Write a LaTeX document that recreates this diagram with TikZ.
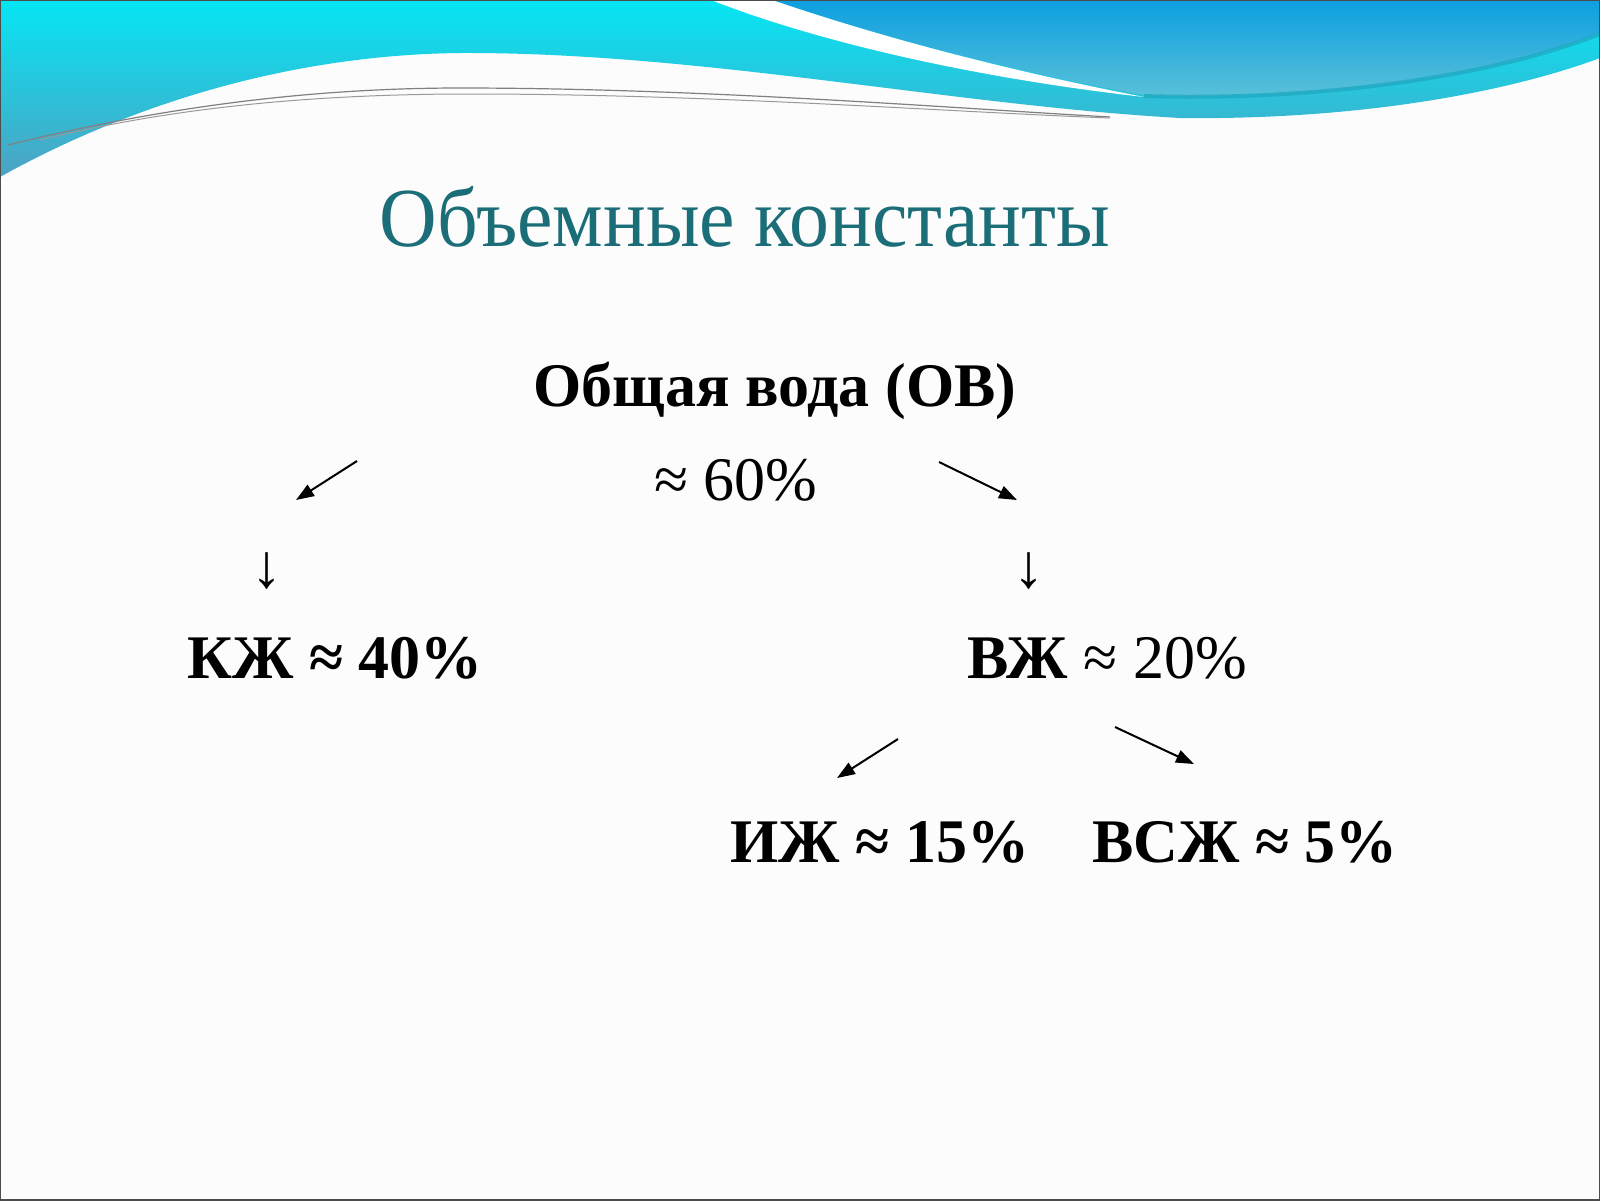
\documentclass[tikz,border=0pt]{standalone}
\usepackage{fontspec}
\setmainfont{Liberation Serif}
\newfontfamily\titlefont[FakeStretch=0.95]{Liberation Serif}
\usetikzlibrary{arrows.meta}
\definecolor{titleteal}{HTML}{1B6E78}
\definecolor{wavecyan}{HTML}{05E6F4}
\definecolor{wavemid}{HTML}{28C8DE}
\definecolor{wavegrey}{HTML}{4EA2C2}
\definecolor{waveblue}{HTML}{0C9FE0}
\definecolor{wavelight}{HTML}{5CC2D8}
\definecolor{wavestripe}{HTML}{1FA6C0}
\tikzset{
  lbl/.style={inner sep=0.75pt, font=\fontsize{31}{37}\selectfont},
  lblb/.style={lbl, font=\fontsize{31}{37}\selectfont\bfseries},
  arr/.style={line width=1pt, -{Triangle[length=9pt,width=6.5pt]}},
}

\begin{document}
\begin{tikzpicture}[x=0.5pt,y=0.5pt,yscale=-1,xscale=1]
	\useasboundingbox (0,0) rectangle (1600,1200);
	\fill[white!98!gray] (0,0) rectangle (1600,1200);

	% Wave
	\shade[top color=wavecyan, middle color=wavemid, bottom color=wavegrey]
	  (0,0) -- (0,177) .. controls (120,110) and (280,55) .. (460,53)
	  .. controls (700,52) and (950,105) .. (1180,118)
	  .. controls (1350,120) and (1500,95) .. (1600,58) -- (1600,0) -- cycle;
	\shade[top color=waveblue, bottom color=wavelight]
	  (772,0) .. controls (860,30) and (980,65) .. (1144,95)
	  .. controls (1300,100) and (1480,80) .. (1600,33) -- (1600,0) -- cycle;
	\draw[wavestripe, line width=2pt, opacity=0.7]
	  (1144,96) .. controls (1300,101) and (1480,81) .. (1600,34);
	\fill[white]
	  (711,0) .. controls (800,35) and (950,75) .. (1144,97)
	  .. controls (980,65) and (860,30) .. (772,0) -- cycle;
	\draw[gray, line width=0.6pt]
	  (8,145) .. controls (150,110) and (300,88) .. (460,88)
	  .. controls (700,88) and (950,108) .. (1110,117);
	\draw[gray!80, line width=0.5pt]
	  (40,140) .. controls (170,108) and (310,94) .. (470,94)
	  .. controls (710,94) and (950,112) .. (1110,118);

	% Text Node
	\node[inner sep=0.75pt, text=titleteal, font=\titlefont\fontsize{42}{50}\selectfont] (title) at (745,217) {Объемные константы};
	% Text Node
	\node[lblb] (ov) at (775,391) {Общая вода (ОВ)};
	% Text Node
	\node[lbl] (ovval) at (736,480) {≈ 60\%};
	% Text Node
	\node[lbl] (darrL) at (267,571) {↓};
	% Text Node
	\node[lbl] (darrR) at (1029,571) {↓};
	% Text Node
	\node[lblb] (kzh) at (335,658) {КЖ ≈ 40\%};
	% Text Node
	\node[lbl] (vzh) at (1107,658) {\textbf{ВЖ} ≈ 20\%};
	% Text Node
	\node[lblb] (izh) at (880,842) {ИЖ ≈ 15\%};
	% Text Node
	\node[lblb] (vszh) at (1245,842) {ВСЖ ≈ 5\%};

	\coordinate (a1s) at (357,461);
	\coordinate (a1e) at (296,500);
	\coordinate (a2s) at (939,462);
	\coordinate (a2e) at (1017,500);
	\coordinate (a3s) at (898,739);
	\coordinate (a3e) at (837,778);
	\coordinate (a4s) at (1115,727);
	\coordinate (a4e) at (1194,764);
	% Connection
	\draw[arr] (a1s) -- (a1e);
	% Connection
	\draw[arr] (a2s) -- (a2e);
	% Connection
	\draw[arr] (a3s) -- (a3e);
	% Connection
	\draw[arr] (a4s) -- (a4e);

	\draw[black!70, line width=1pt] (0,0) rectangle (1600,1200);
\end{tikzpicture}
\end{document}
